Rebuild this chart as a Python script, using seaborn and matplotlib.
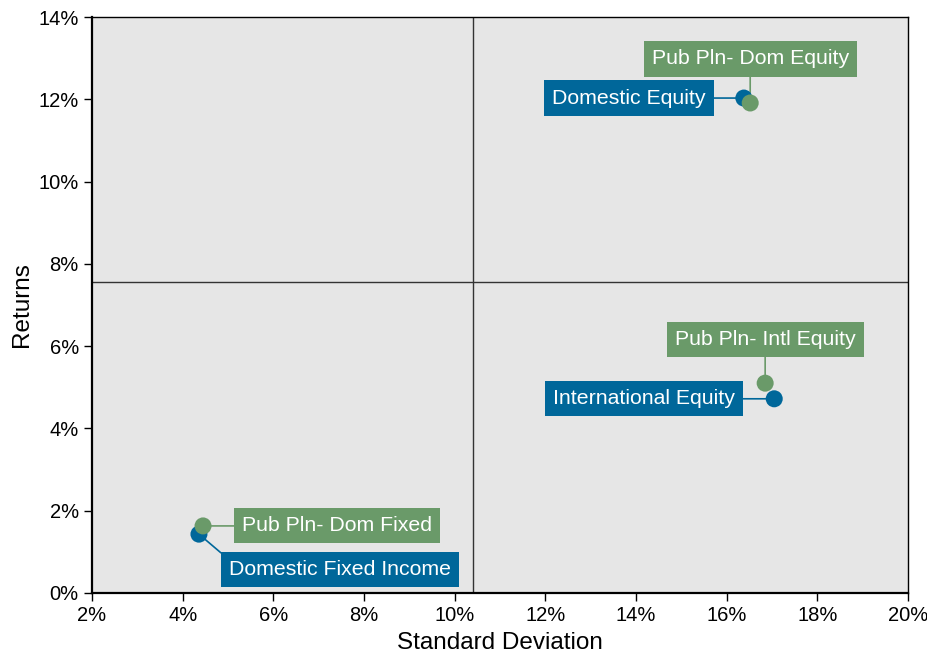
import matplotlib
matplotlib.use("Agg")
import matplotlib.pyplot as plt
from matplotlib.ticker import FuncFormatter, MultipleLocator
import seaborn as sns
import pandas as pd

# Risk / return data (percent)
names = ["Domestic Equity", "Pub Pln- Dom Equity",
         "International Equity", "Pub Pln- Intl Equity",
         "Domestic Fixed Income", "Pub Pln- Dom Fixed"]
groups = ["Index", "Public Plan", "Index", "Public Plan", "Index", "Public Plan"]
std_dev = [16.38, 16.52, 17.05, 16.85, 4.36, 4.45]
returns = [12.03, 11.91, 4.72, 5.10, 1.43, 1.63]

# Quadrant dividers (averages)
mid_x = 10.40
mid_y = 7.56

df = pd.DataFrame({"name": names, "group": groups, "sd": std_dev, "ret": returns})

blue = "#00679A"
green = "#6A9A69"
palette = {"Index": blue, "Public Plan": green}

sns.set_theme(style="white")
plt.rcParams["font.family"] = ["Liberation Sans", "DejaVu Sans"]

fig = plt.figure(figsize=(9.28, 6.54), dpi=100)
ax = fig.add_axes([0.0991, 0.0933, 0.8793, 0.8807])
ax.set_facecolor("#E6E6E6")

ax.axvline(mid_x, color="#333333", lw=1.0, zorder=1)
ax.axhline(mid_y, color="#333333", lw=1.0, zorder=1)

sns.scatterplot(data=df, x="sd", y="ret", hue="group", palette=palette,
                hue_order=["Index", "Public Plan"], s=150, edgecolor="none",
                legend=False, ax=ax, zorder=4)

# label placement: offset in pixels from the point, and connector anchor
label_offsets = {
    "Domestic Equity": ((-115, 0), (0.5, 0.5)),
    "Pub Pln- Dom Equity": ((0, 44), (0.5, 0.5)),
    "International Equity": ((-130, 0), (0.5, 0.5)),
    "Pub Pln- Intl Equity": ((0, 44), (0.5, 0.5)),
    "Domestic Fixed Income": ((141, -35), (0.0, 1.0)),
    "Pub Pln- Dom Fixed": ((134, 0), (0.5, 0.5)),
}

for _, r in df.iterrows():
    col = palette[r["group"]]
    off, rel = label_offsets[r["name"]]
    ax.annotate(r["name"], xy=(r["sd"], r["ret"]), xytext=off,
                textcoords="offset pixels", ha="center", va="center",
                fontsize=15.3, color="white", zorder=3,
                bbox=dict(boxstyle="square,pad=0.38", fc=col, ec="none"),
                arrowprops=dict(arrowstyle="-", color=col, lw=1.2,
                                shrinkA=0, shrinkB=0, relpos=rel))

ax.set_xlim(2, 20)
ax.set_ylim(0, 14)
ax.xaxis.set_major_locator(MultipleLocator(2))
ax.yaxis.set_major_locator(MultipleLocator(2))
pct = FuncFormatter(lambda v, p: f"{v:.0f}%")
ax.xaxis.set_major_formatter(pct)
ax.yaxis.set_major_formatter(pct)
ax.tick_params(axis="both", which="major", direction="out", length=6, width=1,
               color="black", labelsize=14.5, labelcolor="black", bottom=True, left=True)

for side in ["left", "bottom"]:
    ax.spines[side].set_color("black")
    ax.spines[side].set_linewidth(1.6)
for side in ["top", "right"]:
    ax.spines[side].set_color("black")
    ax.spines[side].set_linewidth(1.0)

ax.set_xlabel("Standard Deviation", fontsize=17.5, color="black", labelpad=5)
ax.set_ylabel("Returns", fontsize=17.5, color="black", labelpad=4)

fig.savefig("out.png", dpi=100)
